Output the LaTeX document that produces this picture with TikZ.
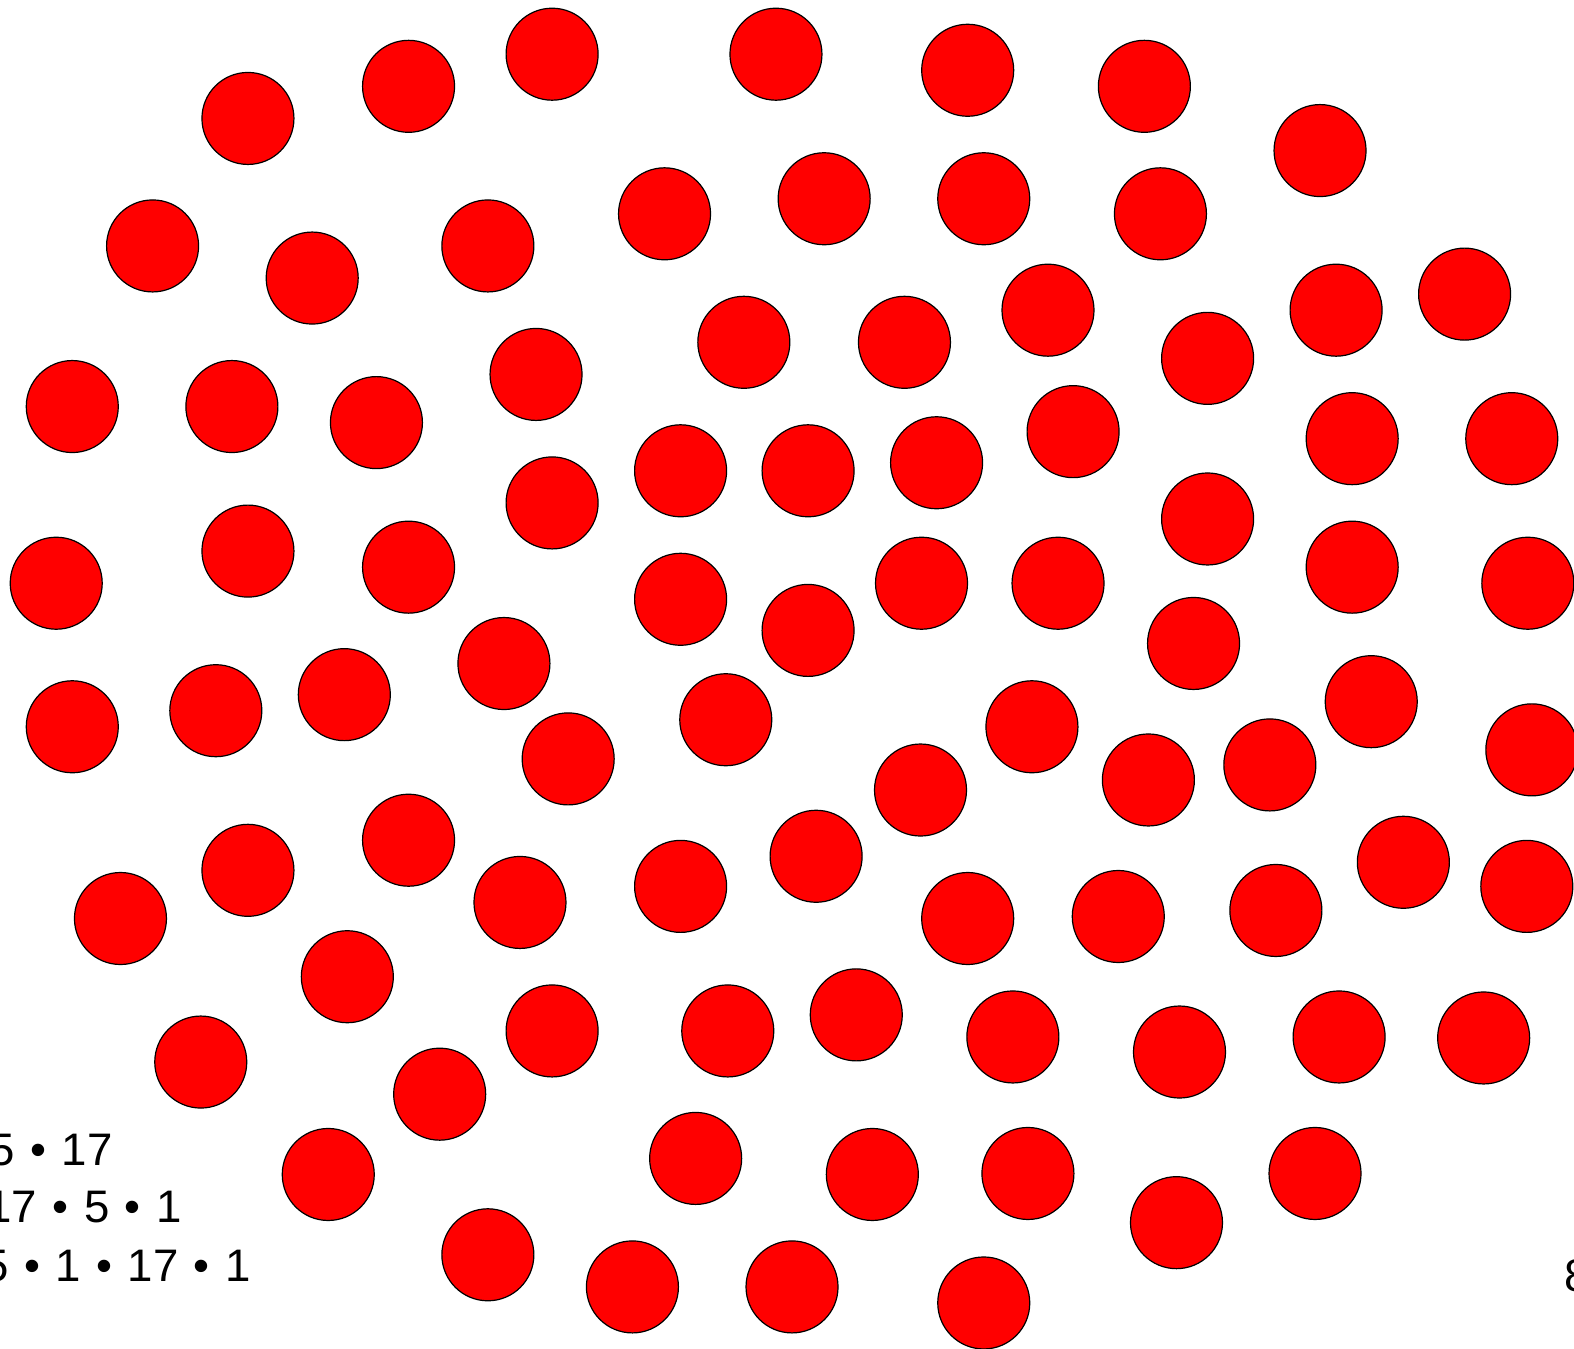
\documentclass[tikz,border=0pt]{standalone}
\usepackage{fontspec}
\setmainfont{Liberation Sans}
\newcommand\mdt{\kern0.06em•\kern0.06em}
\begin{document}
\begin{tikzpicture}[x={(0.50191pt,0)},y={(0,-0.50191pt)},
  disc/.style={circle,draw=black,fill=red,line width=0.6pt,inner sep=0pt,minimum size=46pt},
  lbl/.style={inner sep=0pt,font=\fontsize{22.8pt}{27pt}\selectfont}]
\useasboundingbox (0,0) rectangle (1568,1343);
\foreach \px/\py [count=\i] in {
247/118,407/86,550/54,773/54,964/70,1140/86,1315/150,
152/245,311/277,486/245,662/213,821/198,980/198,1156/213,1331/309,1459/293,
741/341,901/341,1044/309,1203/357,
72/405,231/405,375/421,534/373,678/469,805/469,933/461,1069/430,1347/437,1506/437,
550/501,247/549,407/565,56/581,678/597,805/628,918/581,1054/581,1203/517,1347/565,1522/581,
502/661,1189/641,
72/724,215/708,343/692,723/717,1028/724,1366/699,
566/756,917/787,1144/777,1265/762,1526/747,
407/837,247/867,120/915,518/899,678/883,813/853,964/915,1114/913,1271/907,1398/859,1521/883,
346/973,200/1058,550/1027,725/1027,853/1011,1009/1033,1175/1048,1334/1033,1478/1034,
438/1090,327/1170,693/1154,869/1170,1024/1169,1172/1218,1310/1169,
486/1250,630/1282,789/1282,980/1298}
  \node[disc] (c\i) at (\px,\py) {};
\node[lbl,anchor=base east] (t1) at (112.6,1160.6) {5 \mdt{} 17};
\node[lbl,anchor=base east] (t2) at (181.3,1218.3) {17 \mdt{} 5 \mdt{} 1};
\node[lbl,anchor=base east] (t3) at (250,1277.1) {5 \mdt{} 1 \mdt{} 17 \mdt{} 1};
\node[lbl,anchor=base west] (t4) at (1558,1287) {8};
\end{tikzpicture}
\end{document}
